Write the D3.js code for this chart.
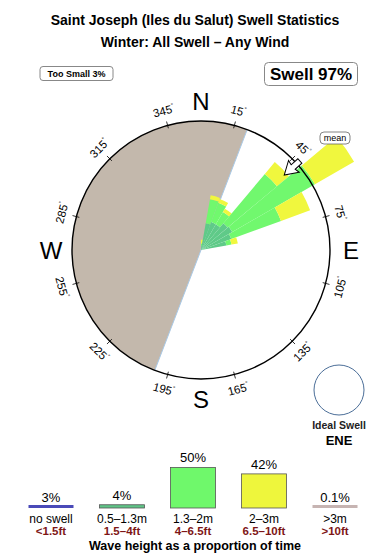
<!DOCTYPE html>
<html>
<head>
<meta charset="utf-8">
<script src="https://cdn.jsdelivr.net/npm/d3@7"></script>
<style>
  body { margin: 0; background: #fff; }
  svg { display: block; font-family: "Liberation Sans", Arial, sans-serif; }
</style>
</head>
<body>
<svg id="chart" width="390" height="560"></svg>
<script>
// direction bins (degrees, centre of each 10 degree sector)
var bins = [5, 15, 25, 35, 45, 55, 65, 75]
// share of time per band, in units where 100 = the rose circle
var band05 = [3, 21, 23, 23, 27, 28, 25, 20]   // 0.5-1.3m
var band13 = [2, 19, 16, 11, 50, 74, 41, 4]    // 1.3-2m
var band20 = [3, 3, 3, 3, 12, 35, 24, 5]       // 2-3m
var bandColors = ['#5fca88', '#71f86e', '#f0f73e']

var tickAngles = [15, 45, 75, 105, 135, 165, 195, 225, 255, 285, 315, 345]
var cardinals = [{t: 'N', a: 0}, {t: 'E', a: 90}, {t: 'S', a: 180}, {t: 'W', a: 270}]
var landFrom = 201, landTo = 381
var meanDir = 48

// legend
var legendPct = [3, 4, 50, 42, 0.1]
var legendPctText = ['3%', '4%', '50%', '42%', '0.1%']
var legendMetres = ['no swell', '0.5\u20131.3m', '1.3\u20132m', '2\u20133m', '>3m']
var legendFeet = ['<1.5ft', '1.5\u20134ft', '4\u20136.5ft', '6.5\u201310ft', '>10ft']
var legendColors = ['#4a4ab8', '#60c487', '#6ff86b', '#eef63c', '#c6b4b2']
var legendIsLine = [true, false, false, false, true]

var svg = d3.select('#chart')
var cx = 201, cy = 250, R = 129
var rad = Math.PI / 180

svg.append('text').attr('x', 195).attr('y', 25).attr('text-anchor', 'middle')
  .attr('font-size', 14).attr('font-weight', 'bold')
  .text('Saint Joseph (Iles du Salut) Swell Statistics')
svg.append('text').attr('x', 195).attr('y', 47).attr('text-anchor', 'middle')
  .attr('font-size', 14).attr('font-weight', 'bold')
  .text('Winter: All Swell \u2013 Any Wind')

// top boxes
svg.append('rect').attr('x', 40).attr('y', 66.5).attr('width', 73).attr('height', 14)
  .attr('rx', 3).attr('fill', 'none').attr('stroke', '#888')
svg.append('text').attr('x', 76.5).attr('y', 77).attr('text-anchor', 'middle')
  .attr('font-size', 9).attr('font-weight', 'bold').text('Too Small 3%')
svg.append('rect').attr('x', 264.5).attr('y', 62.5).attr('width', 93).attr('height', 23)
  .attr('rx', 4).attr('fill', 'none').attr('stroke', '#888')
svg.append('text').attr('x', 311).attr('y', 80).attr('text-anchor', 'middle')
  .attr('font-size', 17).attr('font-weight', 'bold').text('Swell 97%')

var rose = svg.append('g').attr('transform', 'translate(' + cx + ',' + cy + ')')
var r = d3.scaleLinear().domain([0, 100]).range([0, R])
var arc = d3.arc()

// land
rose.append('path')
  .attr('d', arc({innerRadius: 0, outerRadius: R, startAngle: landFrom * rad, endAngle: landTo * rad}))
  .attr('fill', '#c3b8ac')
;[landFrom, landTo].forEach(function(a) {
  rose.append('line').attr('x1', 0).attr('y1', 0)
    .attr('x2', R * Math.sin(a * rad)).attr('y2', -R * Math.cos(a * rad))
    .attr('stroke', '#a9c9e6').attr('stroke-width', 1)
})

// stacked sectors
var stacked = bins.map(function(b, i) {
  var vals = [band05[i], band13[i], band20[i]]
  var start = 0
  return vals.map(function(v, j) {
    var seg = {bin: b, band: j, r0: start, r1: start + v}
    start += v
    return seg
  })
})
rose.selectAll('g.bin').data(stacked).enter().append('g').attr('class', 'bin')
  .selectAll('path').data(function(d) { return d }).enter().append('path')
  .attr('d', function(d) {
    return arc({innerRadius: r(d.r0), outerRadius: r(d.r1),
      startAngle: (d.bin - 5) * rad, endAngle: (d.bin + 5) * rad})
  })
  .attr('fill', function(d) { return bandColors[d.band] })

// circle
rose.append('circle').attr('r', R).attr('fill', 'none').attr('stroke', '#000').attr('stroke-width', 1.4)

rose.selectAll('line.tick').data(tickAngles).enter().append('line').attr('class', 'tick')
  .attr('x1', function(a) { return (R - 3) * Math.sin(a * rad) })
  .attr('y1', function(a) { return -(R - 3) * Math.cos(a * rad) })
  .attr('x2', function(a) { return (R + 4) * Math.sin(a * rad) })
  .attr('y2', function(a) { return -(R + 4) * Math.cos(a * rad) })
  .attr('stroke', '#000').attr('stroke-width', 0.8)

var tl = rose.selectAll('g.tl').data(tickAngles).enter().append('g').attr('class', 'tl')
  .attr('transform', function(a) {
    var rr = R + 15
    var rot = ((a + 90) % 180) - 90
    return 'translate(' + (rr * Math.sin(a * rad)) + ',' + (-rr * Math.cos(a * rad)) + ') rotate(' + rot + ')'
  })
var tt = tl.append('text').attr('text-anchor', 'middle').attr('dy', '0.35em').attr('font-size', 11.5)
tt.append('tspan').text(function(a) { return a })
tt.append('tspan').attr('font-size', 6).attr('dy', '-0.9em').text('\u00b0')

rose.selectAll('text.card').data(cardinals).enter().append('text').attr('class', 'card')
  .attr('x', function(d) { return 150 * Math.sin(d.a * rad) })
  .attr('y', function(d) { return -149 * Math.cos(d.a * rad) })
  .attr('dy', '0.36em').attr('text-anchor', 'middle').attr('font-size', 24)
  .text(function(d) { return d.t })

// mean arrow
var ma = rose.append('g').attr('transform', 'rotate(' + meanDir + ')')
ma.append('path')
  .attr('d', 'M0,' + (-112) + 'L-8,' + (-125) + 'L-3,' + (-124) + 'L-3,' + (-133) +
    'L3,' + (-133) + 'L3,' + (-124) + 'L8,' + (-125) + 'Z')
  .attr('fill', '#fff').attr('stroke', '#000').attr('stroke-width', 1)
var mg = rose.append('g').attr('transform', 'translate(134,-112)')
mg.append('rect').attr('x', -15).attr('y', -6).attr('width', 30).attr('height', 12).attr('rx', 4)
  .attr('fill', '#fff').attr('stroke', '#666').attr('stroke-width', 0.8)
mg.append('text').attr('text-anchor', 'middle').attr('dy', '0.33em').attr('font-size', 9).text('mean')

// ideal swell
svg.append('circle').attr('cx', 339).attr('cy', 390).attr('r', 25)
  .attr('fill', 'none').attr('stroke', '#4b6e98').attr('stroke-width', 1)
svg.append('text').attr('x', 339).attr('y', 429).attr('text-anchor', 'middle')
  .attr('font-size', 10.5).attr('font-weight', 'bold').attr('fill', '#222').text('Ideal Swell')
svg.append('text').attr('x', 339).attr('y', 445).attr('text-anchor', 'middle')
  .attr('font-size', 13).attr('font-weight', 'bold').text('ENE')

// legend
var lx = d3.scalePoint().domain(legendMetres).range([51, 335])
var lh = d3.scaleLinear().domain([0, 50]).range([0, 40.6])
var base = 508
var bw = 45
var lg = svg.selectAll('g.leg').data(legendMetres).enter().append('g').attr('class', 'leg')
  .attr('transform', function(d) { return 'translate(' + lx(d) + ',0)' })
lg.each(function(d, i) {
  var g = d3.select(this)
  var top
  if (legendIsLine[i]) {
    top = base - 1.5
    g.append('rect').attr('x', -bw / 2).attr('y', base - 3).attr('width', bw).attr('height', 3)
      .attr('fill', legendColors[i])
  } else {
    top = base - lh(legendPct[i])
    g.append('rect').attr('x', -bw / 2).attr('y', top).attr('width', bw).attr('height', lh(legendPct[i]))
      .attr('fill', legendColors[i]).attr('stroke', '#555').attr('stroke-width', 0.8)
  }
  g.append('text').attr('text-anchor', 'middle').attr('y', top - 5).attr('font-size', 13)
    .text(legendPctText[i])
  g.append('text').attr('text-anchor', 'middle').attr('y', 523).attr('font-size', 12)
    .text(d)
  g.append('text').attr('text-anchor', 'middle').attr('y', 534.5).attr('font-size', 11.5)
    .attr('font-weight', 'bold').attr('fill', '#7e1616').text(legendFeet[i])
})
svg.append('text').attr('x', 195).attr('y', 550).attr('text-anchor', 'middle')
  .attr('font-size', 12.5).attr('font-weight', 'bold').text('Wave height as a proportion of time')
</script>
</body>
</html>
